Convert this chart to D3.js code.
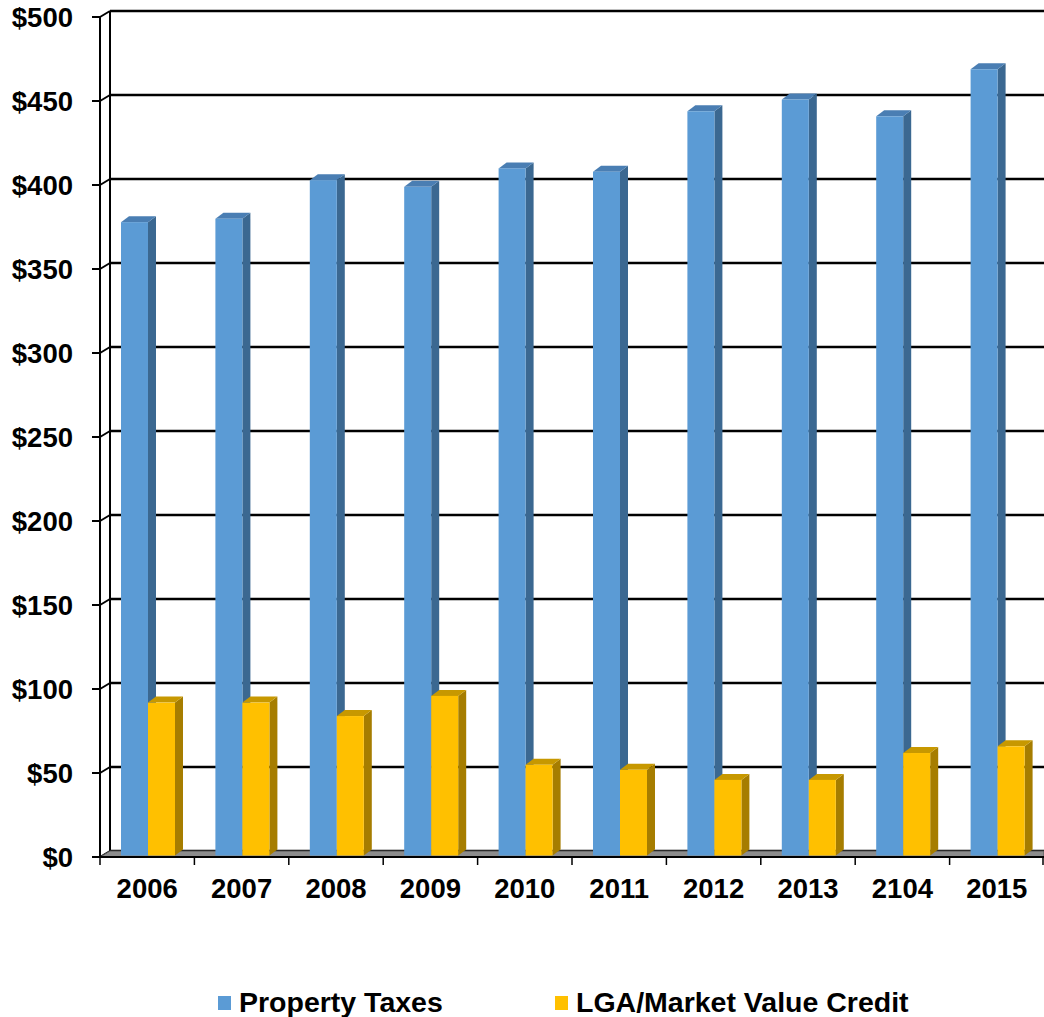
<!DOCTYPE html>
<html>
<head>
<meta charset="utf-8">
<script src="https://cdnjs.cloudflare.com/ajax/libs/d3/7.8.5/d3.min.js"></script>
<style>
  body { margin: 0; background: #fff; }
  svg text { font-family: "Liberation Sans", Arial, sans-serif; font-weight: bold; fill: #000; }
</style>
</head>
<body>
<div id="chart"></div>
<script>
// chart data
var years = ["2006", "2007", "2008", "2009", "2010", "2011", "2012", "2013", "2104", "2015"];
var seriesNames = ["Property Taxes", "LGA/Market Value Credit"];
var propertyTaxes = [377, 379, 402, 398, 409, 407, 443, 450, 440, 468];
var lgaCredit = [91, 91, 83, 95, 54, 51, 45, 45, 61, 65];
var yTicks = [0, 50, 100, 150, 200, 250, 300, 350, 400, 450, 500];

var W = 1044, H = 1017;
var colors = {
  "Property Taxes": {front: "#5b9bd5", side: "#3b6891", top: "#4a7eb3"},
  "LGA/Market Value Credit": {front: "#ffc000", side: "#a67d00", top: "#c79800"}
};

var svg = d3.select("#chart").append("svg")
    .attr("width", W)
    .attr("height", H);

// scales: front plane, back wall, bar faces
var x = d3.scaleBand().domain(years).range([100, 1044]).padding(0);
var xs = d3.scaleBand().domain(seriesNames).range([21, 75]).padding(0);
var yFront = d3.scaleLinear().domain([0, 500]).range([857, 17]);
var yBack = d3.scaleLinear().domain([0, 500]).range([851, 11]);
var yBar = d3.scaleLinear().domain([0, 500]).range([855.5, 15.5]);
var dx = 10;  // wall depth
var bdx = 8, bdy = -6;  // bar depth

// back wall gridlines
svg.selectAll(".grid").data(yTicks).enter().append("line")
    .attr("x1", 100 + dx).attr("x2", W)
    .attr("y1", function(d) { return yBack(d); })
    .attr("y2", function(d) { return yBack(d); })
    .attr("stroke", "#000").attr("stroke-width", 2.5);

// left wall
svg.selectAll(".slant").data(yTicks).enter().append("line")
    .attr("x1", 100).attr("x2", 100 + dx)
    .attr("y1", function(d) { return yFront(d); })
    .attr("y2", function(d) { return yBack(d); })
    .attr("stroke", "#000").attr("stroke-width", 2);
svg.append("line").attr("x1", 100 + dx).attr("x2", 100 + dx)
    .attr("y1", yBack(500)).attr("y2", yBack(0))
    .attr("stroke", "#000").attr("stroke-width", 2);

// floor
svg.append("path")
    .attr("d", "M100," + yFront(0) + "L" + (100 + dx) + "," + yBack(0) + "L" + W + "," + yBack(0) + "L" + W + "," + yFront(0) + "Z")
    .attr("fill", "#8c8c8c").attr("stroke", "#555").attr("stroke-width", 1);

// front y axis
svg.append("line").attr("x1", 100).attr("x2", 100)
    .attr("y1", yFront(500)).attr("y2", yFront(0))
    .attr("stroke", "#000").attr("stroke-width", 2);
svg.selectAll(".ytick").data(yTicks).enter().append("line")
    .attr("x1", 92).attr("x2", 100)
    .attr("y1", function(d) { return yFront(d); })
    .attr("y2", function(d) { return yFront(d); })
    .attr("stroke", "#000").attr("stroke-width", 2);
svg.selectAll(".ylabel").data(yTicks).enter().append("text")
    .attr("x", 73)
    .attr("y", function(d) { return yFront(d) + 10; })
    .attr("text-anchor", "end")
    .style("font-size", "27.5px")
    .text(function(d) { return "$" + d; });

// bars
var rows = [];
years.forEach(function(yr, i) {
  rows.push({year: yr, series: seriesNames[0], value: propertyTaxes[i]});
  rows.push({year: yr, series: seriesNames[1], value: lgaCredit[i]});
});

var bar = svg.selectAll(".bar").data(rows).enter().append("g");
bar.each(function(d) {
  var g = d3.select(this);
  var x0 = x(d.year) + xs(d.series), w = xs.bandwidth();
  var y0 = yBar(d.value), yb = yBar(0);
  var c = colors[d.series];
  // side
  g.append("path")
    .attr("d", "M" + (x0 + w) + "," + y0 + "L" + (x0 + w + bdx) + "," + (y0 + bdy) +
      "L" + (x0 + w + bdx) + "," + (yb + bdy) + "L" + (x0 + w) + "," + yb + "Z")
    .attr("fill", c.side);
  // top
  g.append("path")
    .attr("d", "M" + x0 + "," + y0 + "L" + (x0 + bdx) + "," + (y0 + bdy) +
      "L" + (x0 + w + bdx) + "," + (y0 + bdy) + "L" + (x0 + w) + "," + y0 + "Z")
    .attr("fill", c.top);
  // front
  g.append("rect")
    .attr("x", x0).attr("y", y0)
    .attr("width", w).attr("height", yb - y0)
    .attr("fill", c.front);
});

// front floor edge and x axis
svg.append("line").attr("x1", 100).attr("x2", W)
    .attr("y1", yFront(0)).attr("y2", yFront(0))
    .attr("stroke", "#000").attr("stroke-width", 2);
var xTickPos = years.map(function(d) { return x(d); }).concat([W - 1]);
svg.selectAll(".xtick").data(xTickPos).enter().append("line")
    .attr("x1", function(d) { return d; }).attr("x2", function(d) { return d; })
    .attr("y1", yFront(0)).attr("y2", yFront(0) + 8)
    .attr("stroke", "#000").attr("stroke-width", 1.5);
svg.selectAll(".xlabel").data(years).enter().append("text")
    .attr("x", function(d) { return x(d) + x.bandwidth() / 2; })
    .attr("y", 898)
    .attr("text-anchor", "middle")
    .style("font-size", "27.5px")
    .text(function(d) { return d; });

// legend
var legendX = [218, 555];
var legend = svg.selectAll(".legend").data(seriesNames).enter().append("g")
    .attr("transform", function(d, i) { return "translate(" + legendX[i] + ",0)"; });
legend.append("rect")
    .attr("x", 0).attr("y", 996)
    .attr("width", 13).attr("height", 14)
    .attr("fill", function(d) { return colors[d].front; });
legend.append("text")
    .attr("x", 21).attr("y", 1012)
    .style("font-size", "28.5px")
    .text(function(d) { return d; });
</script>
</body>
</html>
